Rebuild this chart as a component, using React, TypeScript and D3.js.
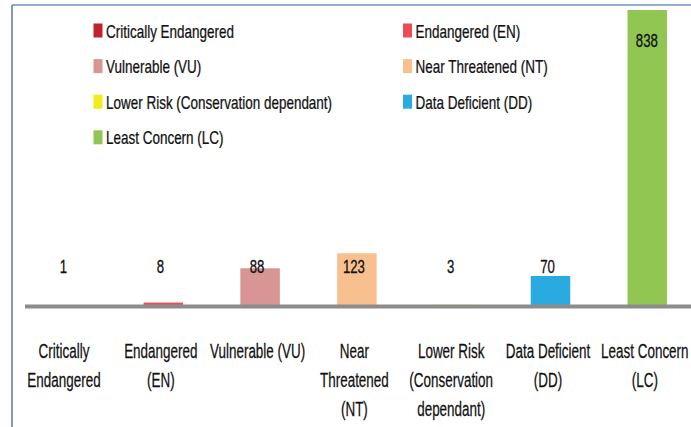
import React, { useEffect, useRef } from "react";
import * as d3 from "d3";

// IUCN status counts
const categories = [
  "Critically Endangered",
  "Endangered (EN)",
  "Vulnerable (VU)",
  "Near Threatened (NT)",
  "Lower Risk (Conservation dependant)",
  "Data Deficient (DD)",
  "Least Concern (LC)",
];
const values = [1, 8, 88, 123, 3, 70, 838];
const colors = ["#c0232c", "#ee4b55", "#d99594", "#f9c08f", "#f2ec1c", "#29abe2", "#92c653"];
// wrapped tick labels under each bar
const tickLines = [
  ["Critically", "Endangered"],
  ["Endangered", "(EN)"],
  ["Vulnerable (VU)"],
  ["Near", "Threatened", "(NT)"],
  ["Lower Risk", "(Conservation", "dependant)"],
  ["Data Deficient", "(DD)"],
  ["Least Concern", "(LC)"],
];
// legend laid out in two columns (index into categories)
const legendLeft = [0, 2, 4, 6];
const legendRight = [1, 3, 5];

const FONT = "'Liberation Sans', Arial, sans-serif";

const App = () => {
  const ref = useRef(null);

  useEffect(() => {
    if (!ref.current) return;
    const svg = d3.select(ref.current);
    svg.selectAll("*").remove();

    const width = 691;
    const height = 427;
    const plotTop = 10;
    const baseY = 306;

    svg.attr("width", width).attr("height", height);

    // frame lines
    svg.append("line")
      .attr("x1", 12).attr("x2", width).attr("y1", 5).attr("y2", 5)
      .attr("stroke", "#93acd1").attr("stroke-width", 2);
    svg.append("line")
      .attr("x1", 12).attr("x2", 12).attr("y1", 5).attr("y2", height)
      .attr("stroke", "#4d78b6").attr("stroke-width", 1.5);

    const x = d3.scaleBand()
      .domain(categories)
      .range([18.1, 695.7])
      .paddingInner(0.592)
      .paddingOuter(0.296);
    const y = d3.scaleLinear().domain([0, 690]).range([baseY, plotTop]);
    const cx = (d) => x(d) + x.bandwidth() / 2;

    svg.append("clipPath").attr("id", "plot-clip")
      .append("rect")
      .attr("x", 0).attr("y", plotTop).attr("width", width).attr("height", baseY - plotTop);

    // bars
    svg.append("g")
      .attr("clip-path", "url(#plot-clip)")
      .selectAll("rect")
      .data(categories)
      .enter()
      .append("rect")
      .attr("x", (d) => x(d))
      .attr("width", x.bandwidth())
      .attr("y", (d, i) => y(values[i]))
      .attr("height", (d, i) => baseY - y(values[i]))
      .attr("fill", (d, i) => colors[i]);

    // axis line
    svg.append("line")
      .attr("x1", 25).attr("x2", width).attr("y1", 306.5).attr("y2", 306.5)
      .attr("stroke", "#8c8c8c").attr("stroke-width", 4);

    // value labels
    svg.append("g")
      .selectAll("text")
      .data(categories)
      .enter()
      .append("text")
      .attr("transform", (d, i) => {
        const clipped = y(values[i]) < plotTop;
        const lx = cx(d) + (clipped ? -0.5 : -3);
        const ly = clipped ? plotTop + 37 : 273;
        return `translate(${lx},${ly}) scale(0.75,1)`;
      })
      .attr("text-anchor", "middle")
      .attr("font-family", FONT)
      .attr("font-size", 17.6)
      .attr("fill", "#111")
      .attr("stroke", "#111")
      .attr("stroke-width", 0.3)
      .text((d, i) => values[i]);

    // category labels
    const ticks = svg.append("g");
    categories.forEach((c, i) => {
      tickLines[i].forEach((line, j) => {
        ticks.append("text")
          .attr("transform", `translate(${cx(c) - 2.5},${358 + j * 29}) scale(0.69,1)`)
          .attr("text-anchor", "middle")
          .attr("font-family", FONT)
          .attr("font-size", 19.5)
          .attr("fill", "#111")
          .attr("stroke", "#111")
          .attr("stroke-width", 0.25)
          .text(line);
      });
    });

    // legend
    const legend = svg.append("g");
    const drawColumn = (items, sx) => {
      items.forEach((idx, r) => {
        const by = 37.5 + r * 35.6;
        legend.append("rect")
          .attr("x", sx).attr("y", by - 14).attr("width", 9).attr("height", 14)
          .attr("fill", colors[idx]);
        legend.append("text")
          .attr("transform", `translate(${sx + 12.5},${by}) scale(0.77,1)`)
          .attr("font-family", FONT)
          .attr("font-size", 17.5)
          .attr("fill", "#111")
          .attr("stroke", "#111")
          .attr("stroke-width", 0.25)
          .text(categories[idx]);
      });
    };
    drawColumn(legendLeft, 93.5);
    drawColumn(legendRight, 403);
  }, []);

  return (
    <svg
      ref={ref}
      style={{ position: "absolute", left: 0, top: 0, background: "#fff" }}
    />
  );
};

export default App;
